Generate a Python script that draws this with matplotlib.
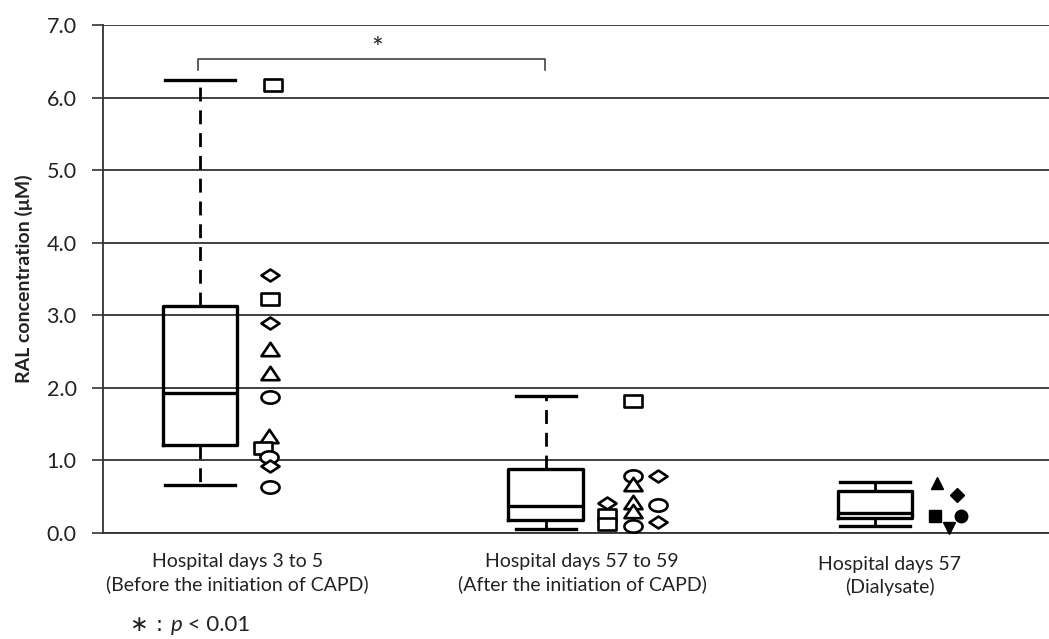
import numpy as np
import matplotlib
matplotlib.use("Agg")
import matplotlib.pyplot as plt
import matplotlib.path as mpath
import matplotlib.transforms as mtrans

plt.rcParams['font.family'] = ['Lato', 'DejaVu Sans']

# ---------------- data ----------------
categories = ["Hospital days 3 to 5\n(Before the initiation of CAPD)",
              "Hospital days 57 to 59\n(After the initiation of CAPD)",
              "Hospital days 57\n(Dialysate)"]
box_q1 = [1.21, 0.18, 0.21]
box_med = [1.93, 0.37, 0.28]
box_q3 = [3.13, 0.88, 0.58]
whis_lo = [0.66, 0.06, 0.10]
whis_hi = [6.24, 1.89, 0.70]

# individual points: (value, marker kind)
g1_vals = [6.17, 3.56, 3.23, 2.90, 2.53, 2.21, 1.87, 1.33, 1.17, 1.05, 0.92, 0.64]
g1_kind = ['s', 'D', 's', 'D', '^', '^', 'o', '^', 's', 'o', 'D', 'o']
g2_vals = [1.82, 0.41, 0.25, 0.13, 0.79, 0.68, 0.43, 0.31, 0.10, 0.78, 0.39, 0.15]
g2_kind = ['s', 'D', 's', 's', 'o', '^', '^', '^', 'o', 'D', 'o', 'D']
g3_vals = [0.69, 0.52, 0.24, 0.24, 0.07]
g3_kind = ['^', 'D', 's', 'o', 'v']

yticks = [0.0, 1.0, 2.0, 3.0, 4.0, 5.0, 6.0, 7.0]
ylabel = "RAL concentration (\u03bcM)"

# ---------------- layout ----------------
box_pos = [0.323, 1.475, 2.573]
label_pos = [0.447, 1.597, 2.623]
g1_x = [0.567, 0.557, 0.557, 0.557, 0.557, 0.557, 0.557, 0.553, 0.533, 0.553, 0.557, 0.557]
g2_x = [1.767, 1.68, 1.68, 1.68, 1.767, 1.767, 1.767, 1.767, 1.767, 1.85, 1.85, 1.85]
g3_x = [2.78, 2.847, 2.773, 2.86, 2.82]

# stretched open markers (wider than tall)
t = np.linspace(0, 2 * np.pi, 64)
m_open = {
    'o': mpath.Path(np.column_stack([np.cos(t), 0.68 * np.sin(t)]), closed=True),
    's': mpath.Path([(-1, -0.62), (1, -0.62), (1, 0.62), (-1, 0.62), (-1, -0.62)], closed=True),
    'D': mpath.Path([(0, 0.66), (1, 0), (0, -0.66), (-1, 0), (0, 0.66)], closed=True),
    '^': mpath.Path([(-1, -0.74), (1, -0.74), (0, 0.74), (-1, -0.74)], closed=True),
}

fig = plt.figure(figsize=(10.49, 6.39), dpi=100)
ax = fig.add_axes([103 / 1049, 106 / 639, 946 / 1049, 508 / 639])

stats = []
for i in range(3):
    stats.append(dict(med=box_med[i], q1=box_q1[i], q3=box_q3[i],
                      whislo=whis_lo[i], whishi=whis_hi[i], fliers=[]))

ax.bxp(stats, positions=box_pos, widths=0.247, capwidths=[0.235, 0.2, 0.235],
       showfliers=False, patch_artist=False,
       boxprops=dict(color='black', linewidth=2.4),
       medianprops=dict(color='black', linewidth=2.4),
       whiskerprops=dict(color='black', linewidth=2.0, linestyle=(0, (5, 3.2))),
       capprops=dict(color='black', linewidth=2.4), zorder=3)

for xs, vals, kinds in [(g1_x, g1_vals, g1_kind), (g2_x, g2_vals, g2_kind)]:
    for x, v, k in zip(xs, vals, kinds):
        ax.plot([x], [v], linestyle='none', marker=m_open[k], markersize=13,
                markerfacecolor='white', markeredgecolor='black',
                markeredgewidth=1.9, zorder=4, clip_on=False)

g3_size = {'^': 9, 'D': 7, 's': 8.5, 'o': 9, 'v': 9}
for x, v, k in zip(g3_x, g3_vals, g3_kind):
    ax.plot([x], [v], linestyle='none', marker=k, markersize=g3_size[k],
            color='black', zorder=4, clip_on=False)

# axes styling
ax.set_xlim(0, 946 / 300)
ax.set_ylim(0, 7.0)
ax.set_yticks(yticks)
ax.set_yticklabels([f"{v:.1f}" for v in yticks], fontsize=15.5, color='#222222')
ax.set_xticks([])
ax.tick_params(axis='y', direction='out', length=8, width=1.2, color='#333333', pad=11)
for s in ['top', 'right']:
    ax.spines[s].set_visible(False)
ax.spines['left'].set_color('#333333')
ax.spines['left'].set_linewidth(1.3)
ax.spines['bottom'].set_color('#333333')
ax.spines['bottom'].set_linewidth(1.3)
ax.yaxis.grid(True, color='#333333', linewidth=1.3, zorder=0)
ax.set_axisbelow(True)
ax.set_ylabel(ylabel, fontsize=14, fontweight='bold', color='#222222', labelpad=10)

# category labels
trans = mtrans.blended_transform_factory(ax.transData, ax.transAxes)
label_y = [-0.079, -0.079, -0.085]
for x, lab, ly in zip(label_pos, categories, label_y):
    ax.text(x, ly, lab, transform=trans, ha='center', va='center',
            fontsize=14, color='#222222', linespacing=1.3)

# significance bracket
bx0, bx1 = box_pos[0] - 0.007, (545 - 103) / 300
ax.plot([bx0, bx0, bx1, bx1], [6.38, 6.53, 6.53, 6.38], color='#333333',
        linewidth=1.1, zorder=3, clip_on=False)
ax.text((bx0 + bx1) / 2 + 0.02, 6.66, "*", ha='center', va='center', fontsize=20,
        color='#222222')

# footnote
t1 = fig.text(130 / 1049, 1 - 625 / 639, "\u2217 : ", fontsize=16, color='#222222',
              va='center', ha='left', family=['DejaVu Sans'])
t2 = ax.annotate("p", xy=(1, 0.5), xycoords=t1, va='center', ha='left',
                 fontsize=16, fontstyle='italic', color='#222222')
ax.annotate(" < 0.01", xy=(1, 0.5), xycoords=t2, va='center', ha='left',
            fontsize=16, color='#222222')

fig.savefig("out.png", dpi=100)
